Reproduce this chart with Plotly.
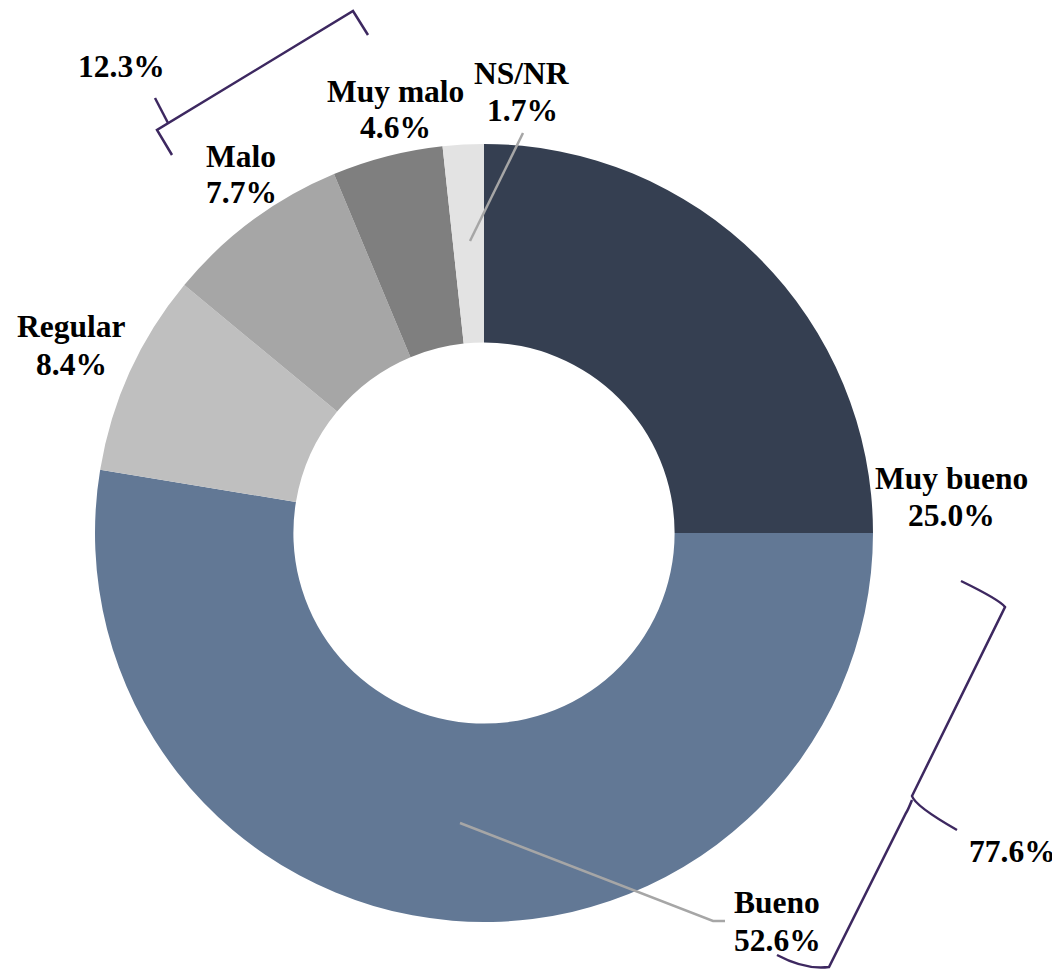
import plotly.graph_objects as go

# ---- data ----
categories = ["Muy bueno", "Bueno", "Regular", "Malo", "Muy malo", "NS/NR"]
values = [25.0, 52.6, 8.4, 7.7, 4.6, 1.7]
colors = ["#353F51", "#627895", "#BFBFBF", "#A6A6A6", "#7F7F7F", "#E3E3E3"]
positive_group = ["Muy bueno", "Bueno"]
negative_group = ["Malo", "Muy malo"]

# page geometry (body has an 8px margin)
PAGE_W, PAGE_H, OFF = 1060, 971, 8
FW, FH = PAGE_W - OFF, PAGE_H - OFF
CX, CY, R = 484, 533, 389
FONT = dict(family="Liberation Serif, Times New Roman, serif", size=31.5, color="#000000", weight="bold")
BRACKET = "#3D2860"
LEADER = "#A6A6A6"

fig = go.Figure()

fig.add_trace(go.Pie(
    labels=categories, values=values, sort=False, direction="clockwise", rotation=0,
    hole=0.49, marker=dict(colors=colors, line=dict(width=0)),
    textinfo="none", hoverinfo="label+percent", showlegend=False,
    domain=dict(x=[(CX - R - OFF) / FW, (CX + R - OFF) / FW],
                y=[(PAGE_H - CY - R) / FH, (PAGE_H - CY + R) / FH]),
))

# helper invisible axes in page-pixel coordinates for annotations/decorations
fig.add_trace(go.Scatter(x=[OFF, PAGE_W], y=[OFF, PAGE_H], mode="markers", marker=dict(opacity=0),
                         hoverinfo="skip", showlegend=False))

# label positions (pixel centers of the two lines) per category
label_pos = {
    "Muy bueno": (951, 478, 515),
    "Bueno": (777, 902, 940),
    "Regular": (71, 326, 364),
    "Malo": (241, 156, 192),
    "Muy malo": (395, 91, 127),
    "NS/NR": (522, 73, 110),
}
anns = []
for c, v in zip(categories, values):
    x, y1, y2 = label_pos[c]
    anns.append(dict(x=x, y=y1, xref="x", yref="y", text=c, showarrow=False,
                     font=FONT, xanchor="center", yanchor="middle"))
    anns.append(dict(x=x, y=y2, xref="x", yref="y", text=f"{v:.1f}%", showarrow=False,
                     font=FONT, xanchor="center", yanchor="middle"))

neg_total = sum(v for c, v in zip(categories, values) if c in negative_group)
pos_total = sum(v for c, v in zip(categories, values) if c in positive_group)
anns.append(dict(x=121, y=66, xref="x", yref="y", text=f"{neg_total:.1f}%", showarrow=False,
                 font=FONT, xanchor="center", yanchor="middle"))
anns.append(dict(x=1012, y=851, xref="x", yref="y", text=f"{pos_total:.1f}%", showarrow=False,
                 font=FONT, xanchor="center", yanchor="middle"))

shapes = [
    # leader lines
    dict(type="path", xref="x", yref="y", path="M 523 133 L 470 241",
         line=dict(color=LEADER, width=2.5)),
    dict(type="path", xref="x", yref="y", path="M 460 823 L 713 921 L 725 921",
         line=dict(color=LEADER, width=2.5)),
    # top square bracket
    dict(type="path", xref="x", yref="y",
         path="M 172 155 L 157 130 L 353 11 L 368 35",
         line=dict(color=BRACKET, width=2.5)),
    dict(type="path", xref="x", yref="y", path="M 168 123 L 155 98",
         line=dict(color=BRACKET, width=2.5)),
    # right curly brace
    dict(type="path", xref="x", yref="y",
         path="M 961 581 Q 1000 600 1005 607 L 912 796 Q 915 806 957 830",
         line=dict(color=BRACKET, width=2.5)),
    dict(type="path", xref="x", yref="y",
         path="M 912 800 Q 908 810 906 813 L 829 967 Q 805 970 777 955",
         line=dict(color=BRACKET, width=2.5)),
]

fig.update_layout(
    width=FW, height=FH, margin=dict(l=0, r=0, t=0, b=0),
    paper_bgcolor="white", plot_bgcolor="rgba(0,0,0,0)",
    xaxis=dict(range=[OFF, PAGE_W], visible=False, domain=[0, 1], fixedrange=True),
    yaxis=dict(range=[PAGE_H, OFF], visible=False, domain=[0, 1], fixedrange=True),
    annotations=anns, shapes=shapes,
)

fig.write_html("out.html")
